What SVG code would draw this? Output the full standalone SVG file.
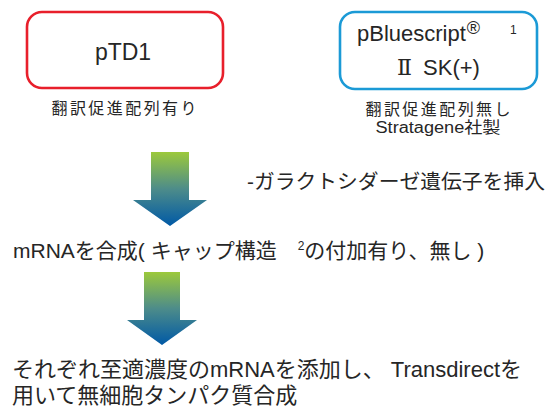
<svg xmlns="http://www.w3.org/2000/svg" width="549" height="414" viewBox="0 0 549 414">
<defs>
<linearGradient id="g" x1="0" y1="0" x2="0" y2="1">
<stop offset="0" stop-color="#9cc93b"/>
<stop offset="0.5" stop-color="#4d8c8a"/>
<stop offset="1" stop-color="#0059a6"/>
</linearGradient>
<style>
text{font-family:"Liberation Sans","Noto Sans CJK JP",sans-serif;fill:#262626}
.box{fill:#fff;stroke-width:2.6}
.sub{font-size:16px;text-anchor:middle}
.arrow{fill:url(#g)}
.roman{font-family:"DejaVu Serif","Liberation Serif",serif}
</style>
</defs>
<g id="pTD1">
<rect class="box" x="27" y="12" width="196" height="76" rx="15" stroke="#e81f2b"/>
<text x="123" y="60" font-size="23" text-anchor="middle">pTD1</text>
<text class="sub" x="124" y="114" textLength="145" lengthAdjust="spacing">翻訳促進配列有り</text>
</g>
<g id="pBluescript">
<rect class="box" x="340" y="12" width="197" height="77" rx="15" stroke="#1b9ad6"/>
<text x="357" y="41" font-size="22">pBluescript<tspan font-size="18" dx="1" dy="-7">®</tspan></text>
<text x="510" y="34" font-size="12">1</text>
<text x="397" y="75" font-size="22"><tspan class="roman">Ⅱ</tspan><tspan dx="5"> SK(+)</tspan></text>
<text class="sub" x="438" y="115" textLength="145" lengthAdjust="spacing">翻訳促進配列無し</text>
<text class="sub" x="438" y="133" font-size="17" textLength="125" lengthAdjust="spacingAndGlyphs">Stratagene社製</text>
</g>
<g id="connectors">
<path class="arrow" d="M151,152 H189 V200 H207 L170,226 L133,200 H151 Z"/>
<path class="arrow" d="M144,272 H180 V320 H197 L162,345 L127,320 H144 Z"/>
</g>
<g id="step1">
<text x="247" y="189" font-size="20" textLength="298" lengthAdjust="spacingAndGlyphs">-ガラクトシダーゼ遺伝子を挿入</text>
</g>
<g id="step2">
<text x="13" y="258" font-size="21">mRNAを合成( キャップ構造　<tspan font-size="12" dy="-8">2</tspan><tspan dy="8">の付加有り、無し )</tspan></text>
</g>
<g id="step3">
<text x="12" y="377" font-size="22" textLength="510" lengthAdjust="spacingAndGlyphs">それぞれ至適濃度のmRNAを添加し、 Transdirectを</text>
<text x="12" y="403" font-size="22">用いて無細胞タンパク質合成</text>
</g>
</svg>
